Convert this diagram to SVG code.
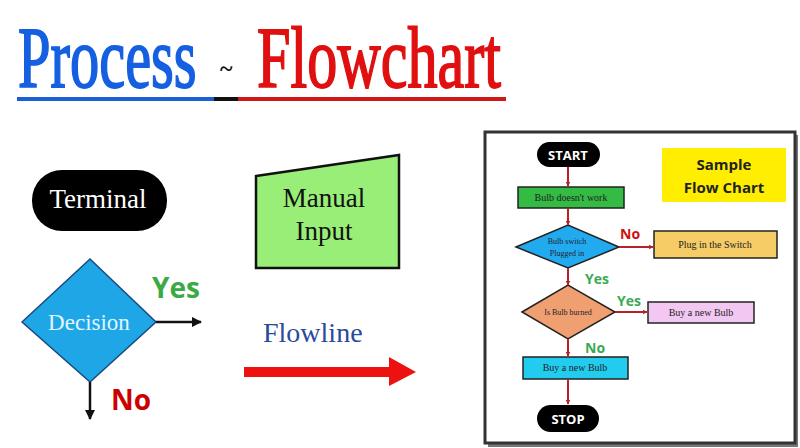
<svg xmlns="http://www.w3.org/2000/svg" width="800" height="448" viewBox="0 0 800 448">
<defs>
<style>
.serif{font-family:"Liberation Serif","DejaVu Serif",serif}
.sans{font-family:"Liberation Sans","DejaVu Sans",sans-serif}
.open{font-family:"Open Sans","Liberation Sans",sans-serif;font-weight:bold}
.small{font-family:"Liberation Serif","DejaVu Serif",serif;font-size:10px;fill:#222;text-anchor:middle}
.tiny{font-family:"Liberation Serif","DejaVu Serif",serif;font-size:8px;fill:#223;text-anchor:middle}
.box{stroke:#222;stroke-width:1.5}
.rc{stroke:#b8202a;stroke-width:2;fill:none;marker-end:url(#ra)}
.bk{stroke:#111;stroke-width:2.5;fill:none;marker-end:url(#ba)}
</style>
<marker id="ra" viewBox="0 0 10 10" refX="9" refY="5" markerWidth="5" markerHeight="5" orient="auto" markerUnits="userSpaceOnUse"><path d="M0,0 L10,5 L0,10 z" fill="#b8202a"/></marker>
<marker id="ba" viewBox="0 0 10 10" refX="9" refY="5" markerWidth="10" markerHeight="10" orient="auto" markerUnits="userSpaceOnUse"><path d="M0,0 L10,5 L0,10 z" fill="#111"/></marker>
</defs>
<rect width="800" height="448" fill="#ffffff"/>

<g id="title">
<text class="serif" transform="translate(18,87) scale(0.68,1)" x="0" y="0" font-size="86" fill="#1560e0" stroke="#1560e0" stroke-width="1.8">Process</text>
<text class="serif" x="220" y="76" font-size="24" font-weight="bold" fill="#111">~</text>
<text class="serif" transform="translate(257,87) scale(0.70,1)" x="0" y="0" font-size="86" fill="#e01010" stroke="#e01010" stroke-width="1.8">Flowchart</text>
<rect x="17" y="97" width="197" height="4" fill="#1a5fd6"/>
<rect x="214" y="97" width="24" height="4" fill="#111"/>
<rect x="238" y="97" width="268" height="4" fill="#d01818"/>
</g>

<g id="terminal">
<rect x="32" y="170" width="135" height="61" rx="30" fill="#000"/>
<text class="serif" x="98" y="208" font-size="27" fill="#fff" text-anchor="middle">Terminal</text>
</g>

<g id="manual-input">
<polygon points="256,176 399,155 399,268 256,268" fill="#99ee77" stroke="#111" stroke-width="2.5"/>
<text class="serif" x="324" y="207" font-size="27" fill="#111" text-anchor="middle">Manual</text>
<text class="serif" x="324" y="240" font-size="27" fill="#111" text-anchor="middle">Input</text>
</g>

<g id="decision">
<polygon points="22,322 90,259 156,322 90,382" fill="#1ea6e6" stroke="#1a4a80" stroke-width="1.5"/>
<text class="serif" x="89" y="330" font-size="23" fill="#e0f6ff" text-anchor="middle">Decision</text>
</g>

<g id="flowline">
<text class="serif" x="263" y="342" font-size="28" fill="#2a4a9a">Flowline</text>
<polygon points="244,367 389,367 389,357 416,372 389,386 389,377 244,377" fill="#ee1111"/>
</g>

<g id="legend-connectors">
<line class="bk" x1="156" y1="322" x2="201" y2="322"/>
<line class="bk" x1="90" y1="382" x2="90" y2="419"/>
<text class="open" x="152" y="298" font-size="28" fill="#3aaa45">Yes</text>
<text class="open" x="111" y="410" font-size="28" fill="#cc0000">No</text>
</g>

<g id="sample-panel">
<rect x="488" y="135" width="310" height="312" fill="#777"/>
<rect x="485" y="132" width="310" height="311" fill="#fff" stroke="#333" stroke-width="3"/>
</g>

<g id="start">
<rect x="537" y="142" width="63" height="25" rx="12.5" fill="#000"/>
<text class="open" x="568" y="160" font-size="13" fill="#fff" text-anchor="middle">START</text>
</g>

<g id="sample-title">
<rect x="662" y="148" width="124" height="54" fill="#ffee00"/>
<text class="open" x="724" y="170" font-size="15" fill="#222" text-anchor="middle">Sample</text>
<text class="open" x="724" y="193" font-size="15" fill="#222" text-anchor="middle">Flow Chart</text>
</g>

<g id="bulb-not-work">
<rect class="box" x="518" y="187" width="106" height="21" fill="#33bb44"/>
<text class="small" x="571" y="201">Bulb doesn't work</text>
</g>

<g id="switch-plugged">
<polygon class="box" points="516,247 568,225 619,247 568,268" fill="#22aaee"/>
<text class="tiny" x="567" y="244">Bulb switch</text>
<text class="tiny" x="567" y="256">Plugged in</text>
</g>

<g id="plug-in">
<rect class="box" x="654" y="231" width="123" height="27" fill="#f5cc66"/>
<text class="small" x="715" y="248">Plug in the Switch</text>
</g>

<g id="bulb-burned">
<polygon class="box" points="522,312 568,285 615,312 568,339" fill="#f0a070"/>
<text class="tiny" x="568" y="315">Is Bulb burned</text>
</g>

<g id="buy-new-1">
<rect class="box" x="648" y="302" width="106" height="21" fill="#f2c8f2"/>
<text class="small" x="701" y="316">Buy a new Bulb</text>
</g>

<g id="buy-new-2">
<rect class="box" x="523" y="357" width="105" height="22" fill="#22ccee"/>
<text class="small" x="575" y="371">Buy a new Bulb</text>
</g>

<g id="stop">
<rect x="537" y="405" width="62" height="27" rx="13.5" fill="#000"/>
<text class="open" x="568" y="424" font-size="13" fill="#fff" text-anchor="middle">STOP</text>
</g>

<g id="connectors">
<line class="rc" x1="568" y1="167" x2="568" y2="186"/>
<line class="rc" x1="568" y1="208" x2="568" y2="225"/>
<line class="rc" x1="619" y1="247" x2="653" y2="247"/>
<line class="rc" x1="568" y1="268" x2="568" y2="285"/>
<line class="rc" x1="615" y1="312" x2="647" y2="312"/>
<line class="rc" x1="568" y1="339" x2="568" y2="356"/>
<line class="rc" x1="568" y1="379" x2="568" y2="404"/>
<text class="open" x="620" y="239" font-size="14" fill="#cc1111">No</text>
<text class="open" x="585" y="284" font-size="14" fill="#3aaa55">Yes</text>
<text class="open" x="617" y="306" font-size="14" fill="#3aaa55">Yes</text>
<text class="open" x="585" y="353" font-size="14" fill="#3aaa55">No</text>
</g>
</svg>
